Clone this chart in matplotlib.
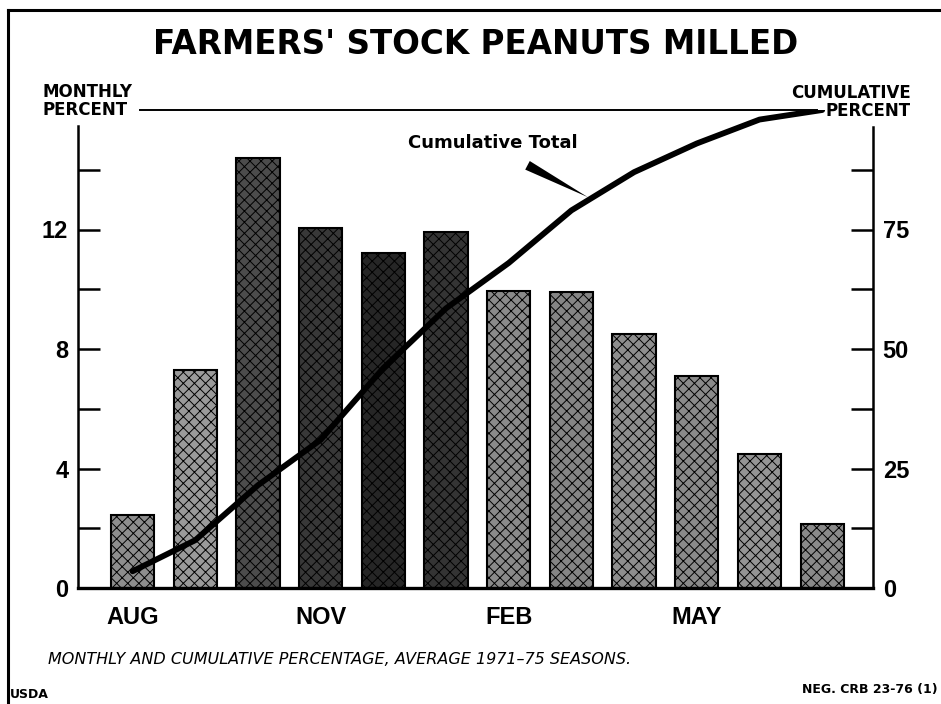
import matplotlib
matplotlib.use('Agg')
import matplotlib.pyplot as plt
from matplotlib.lines import Line2D
import numpy as np

# data (Aug 1971-75 season average)
months = ['AUG', 'SEP', 'OCT', 'NOV', 'DEC', 'JAN', 'FEB', 'MAR', 'APR', 'MAY', 'JUN', 'JUL']
monthly_pct = [2.45, 7.3, 14.4, 12.05, 11.2, 11.9, 9.95, 9.9, 8.5, 7.1, 4.5, 2.15]
cumulative_pct = [3.5, 10, 21.5, 31, 46, 58.5, 68, 79, 87, 93, 98, 100]
shown_months = ['AUG', 'NOV', 'FEB', 'MAY']
left_ticks = [0, 4, 8, 12]
right_ticks = [0, 25, 50, 75]

# halftone shading of each bar (style only)
bar_shades = ['#8e8e8e', '#9a9a9a', '#4c4c4c', '#383838', '#262626', '#343434',
              '#8a8a8a', '#858585', '#8e8e8e', '#8a8a8a', '#959595', '#8a8a8a']

plt.rcParams['hatch.linewidth'] = 0.7
W, H = 941, 704
fig = plt.figure(figsize=(W / 100, H / 100), dpi=100)


def fx(px):
    return px / W


def fy(py):
    return 1 - py / H


ax = fig.add_axes([fx(78), fy(588), fx(873) - fx(78), fy(110) - fy(588)])
ax2 = ax.twinx()

x = np.arange(len(months))
ax.bar(x, monthly_pct, width=0.69, color=bar_shades, edgecolor='black',
       linewidth=1.5, hatch='xxx', zorder=2)
ax2.plot(x, cumulative_pct, color='black', lw=4.2, solid_capstyle='round',
         solid_joinstyle='round', zorder=3)

ax.set_xlim(-0.87, 11.81)
ax.set_ylim(0, 16)
ax2.set_ylim(0, 100)

ax.set_xticks([months.index(m) for m in shown_months])
ax.set_xticklabels(shown_months)
ax.set_yticks(left_ticks)
ax.set_yticks([2, 6, 10, 14], minor=True)
ax2.set_yticks(right_ticks)
ax2.set_yticks([12.5, 37.5, 62.5, 87.5], minor=True)

for lab in ax.get_yticklabels() + ax2.get_yticklabels() + ax.get_xticklabels():
    lab.set_fontfamily('Liberation Sans')
    lab.set_fontweight('bold')
    lab.set_fontsize(17)

ax.tick_params(axis='y', which='both', direction='in', length=16, width=1.8, pad=7)
ax2.tick_params(axis='y', which='both', direction='in', length=16, width=1.8, pad=7)
ax.tick_params(axis='x', length=0, pad=13)

for s in ['left', 'right', 'top', 'bottom']:
    ax2.spines[s].set_visible(s == 'right')
ax.spines['right'].set_visible(False)
ax.spines['left'].set_bounds(0, 15.45)
ax2.spines['right'].set_bounds(0, 96.5)
ax.spines['top'].set_bounds(0.12, 10.92)
ax.spines['left'].set_linewidth(1.8)
ax2.spines['right'].set_linewidth(1.8)
ax.spines['top'].set_linewidth(1.4)
ax.spines['bottom'].set_linewidth(2.4)
ax.patch.set_visible(False)

# pointer from label to curve
ax2.annotate('', xy=(7.3, 81.5), xytext=(6.26, 88.7),
             arrowprops=dict(arrowstyle='wedge,tail_width=0.7,shrink_factor=0.5',
                             color='black', lw=0))

fig.text(fx(476), fy(44), "FARMERS' STOCK PEANUTS MILLED", ha='center', va='center',
         fontsize=23.5, fontweight='bold', family='DejaVu Sans')
fig.text(fx(42), fy(101), 'MONTHLY\nPERCENT', ha='left', va='center', fontsize=12,
         fontweight='bold', family='DejaVu Sans', linespacing=1.0)
fig.text(fx(911), fy(102), 'CUMULATIVE\nPERCENT', ha='right', va='center', fontsize=12,
         fontweight='bold', family='DejaVu Sans', linespacing=1.0, multialignment='right')
fig.text(fx(493), fy(143), 'Cumulative Total', ha='center', va='center', fontsize=13,
         fontweight='bold', family='DejaVu Sans')
fig.text(fx(48), fy(660), 'MONTHLY AND CUMULATIVE PERCENTAGE, AVERAGE 1971\u201375 SEASONS.',
         ha='left', va='center', fontsize=11.5, style='italic', family='DejaVu Sans')
fig.text(fx(10), fy(694), 'USDA', ha='left', va='center', fontsize=9,
         fontweight='bold', family='DejaVu Sans')
fig.text(fx(938), fy(690), 'NEG. CRB 23-76 (1)', ha='right', va='center', fontsize=9,
         fontweight='bold', family='DejaVu Sans')

# outer frame (left and top edges)
fig.add_artist(Line2D([fx(8), fx(8)], [fy(704), fy(10)], color='black', lw=2.2))
fig.add_artist(Line2D([fx(8), fx(941)], [fy(10), fy(10)], color='black', lw=2.2))

fig.savefig('out.png', dpi=100)
